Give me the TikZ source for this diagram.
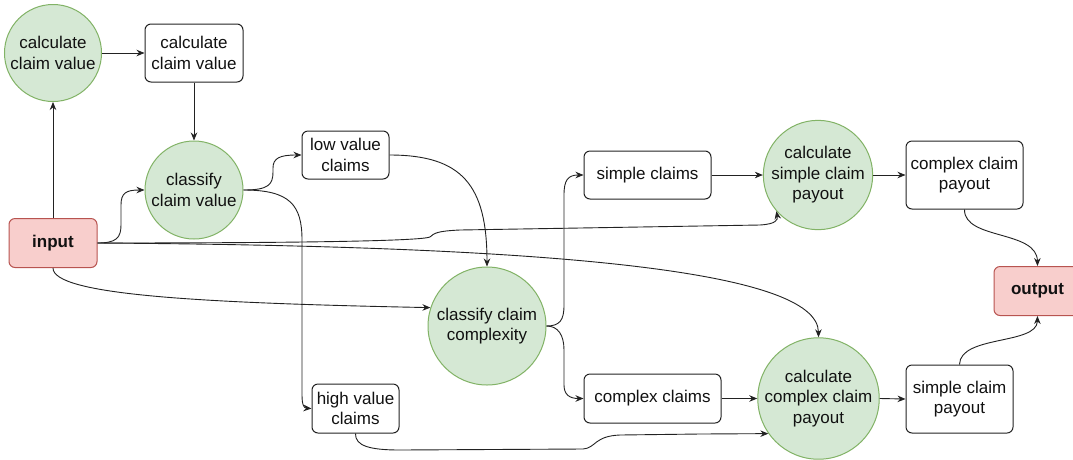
\documentclass[tikz,border=0pt]{standalone}
\usepackage{fontspec}
\setmainfont{Liberation Sans}
\usetikzlibrary{arrows.meta}
\definecolor{gfill}{HTML}{D5E8D4}
\definecolor{gstroke}{HTML}{82B366}
\definecolor{rfill}{HTML}{F8CECC}
\definecolor{rstroke}{HTML}{B85450}
\definecolor{lcol}{HTML}{222222}
\definecolor{txt}{HTML}{111111}
\newcommand\dfont{\fontsize{17}{20.5}\selectfont}
\tikzset{
  proc/.style={circle, draw=gstroke, fill=gfill, line width=1pt, inner sep=0pt, align=center, font=\dfont, text=txt},
  box/.style={rectangle, rounded corners=6pt, draw=lcol, fill=white, line width=1pt, inner sep=0pt, align=center, font=\dfont, text=txt},
  io/.style={box, draw=rstroke, fill=rfill, font=\dfont\bfseries},
  conn/.style={draw=lcol, line width=0.9pt, -{Stealth[length=8pt,width=6.5pt]}}
}
\begin{document}
\begin{tikzpicture}[x=1pt,y=-1pt]
\useasboundingbox (0,0) rectangle (1073,459);
\clip (0,0) rectangle (1073,459);
\fill[white] (0,0) rectangle (1073,459);
% nodes
\node[proc, minimum size=97pt] (c1) at (53,53) {calculate\\claim value};
\node[box, minimum width=98pt, minimum height=58pt] (r1) at (194,53) {calculate\\claim value};
\node[proc, minimum size=98pt] (c2) at (194,190) {classify\\claim value};
\node[box, minimum width=87pt, minimum height=48pt] (low) at (345.5,155) {low value\\claims};
\node[io, minimum width=88pt, minimum height=49pt] (in) at (53,243) {input};
\node[box, minimum width=87pt, minimum height=49pt] (high) at (355.5,408.5) {high value\\claims};
\node[proc, minimum size=118pt] (cc) at (487,326) {classify claim\\complexity};
\node[box, minimum width=127pt, minimum height=48pt] (sc) at (647.5,175) {simple claims};
\node[box, minimum width=137pt, minimum height=49pt] (xc) at (652.5,398.5) {complex claims};
\node[proc, minimum size=108pt] (csp) at (818,175) {calculate\\simple claim\\payout};
\node[proc, minimum size=116pt] (ccp) at (818.5,398.5) {calculate\\complex claim\\payout};
\node[box, minimum width=117pt, minimum height=68pt] (cpay) at (964.5,175) {complex claim\\payout};
\node[box, minimum width=107pt, minimum height=68pt] (spay) at (959.5,399) {simple claim\\payout};
\node[io, minimum width=87pt, minimum height=49pt] (out) at (1037.5,291) {output};
% connectors
\draw[conn] (in.north) -- (c1.south);
\draw[conn] (c1.east) -- (r1.west);
\draw[conn] (r1.south) -- (c2.north);
\draw[conn] (in.east) .. controls (116,243) and (121,238) .. (121,225) -- (121,205) .. controls (121,193) and (126,190) .. (c2.west);
\draw[conn] (c2.east) .. controls (268,190) and (273,185) .. (273,172) -- (273,168) .. controls (273,158) and (280,155) .. (low.west);
\draw[conn] (c2.east) .. controls (290,190) and (302,205) .. (302,240) -- (302,395) .. controls (302,405) and (304,408) .. (high.west);
\draw[conn] (low.east) .. controls (462,155) and (487,185) .. (cc.north);
\draw[conn] (in.south) .. controls (53,295) and (200,303) .. (cc.162);
\draw[conn] (in.east) .. controls (300,243) and (420,241) .. (430,237) .. controls (434,233) and (438,231) .. (460,230) -- (760,225) .. controls (776,224) and (778,220) .. (csp.221);
\draw[conn] (in.east) .. controls (550,246) and (818,270) .. (ccp.north);
\draw[conn] (cc.east) .. controls (560,326) and (564,320) .. (564,305) -- (564,195) .. controls (564,180) and (568,175) .. (sc.west);
\draw[conn] (cc.east) .. controls (558,326) and (564,335) .. (564,350) -- (564,385) .. controls (564,395) and (570,398.5) .. (xc.west);
\draw[conn] (sc.east) -- (csp.west);
\draw[conn] (xc.east) -- (ccp.west);
\draw[conn] (high.south) .. controls (355,446) and (370,450) .. (400,450) -- (583,449) .. controls (596,448) and (594,436) .. (620,435) -- (700,434) -- (ccp.215);
\draw[conn] (csp.east) -- (cpay.west);
\draw[conn] (ccp.east) -- (spay.west);
\draw[conn] (cpay.south) .. controls (964,240) and (1037,230) .. (out.north);
\draw[conn] (spay.north) .. controls (960,335) and (1037,345) .. (out.south);
\end{tikzpicture}
\end{document}
